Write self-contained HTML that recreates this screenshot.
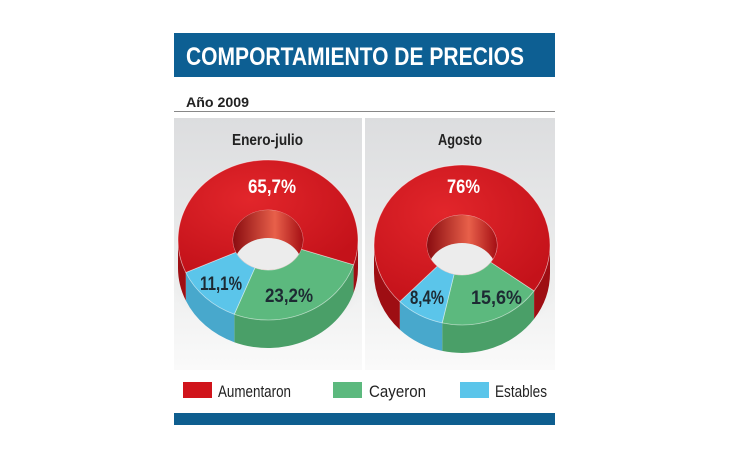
<!DOCTYPE html>
<html><head><meta charset="utf-8"><style>
html,body{margin:0;padding:0;background:#fff;width:730px;height:460px;overflow:hidden}
svg{display:block}
text{font-family:"Liberation Sans Narrow","Liberation Sans",sans-serif;font-weight:bold}
</style></head><body>
<svg id="s" width="730" height="460" viewBox="0 0 730 460" xmlns="http://www.w3.org/2000/svg">
<defs>
<linearGradient id="pg" x1="0" y1="0" x2="0" y2="1"><stop offset="0" stop-color="#dcdddf"/><stop offset="0.6" stop-color="#eceded"/><stop offset="1" stop-color="#fafafa"/></linearGradient>
<radialGradient id="rt" cx="0.4" cy="0.35" r="0.7"><stop offset="0" stop-color="#e2262b"/><stop offset="1" stop-color="#c4121a"/></radialGradient>
<linearGradient id="hw" x1="0" y1="0" x2="1" y2="0"><stop offset="0" stop-color="#8a0c10"/><stop offset="0.6" stop-color="#e8604a"/><stop offset="1" stop-color="#a50f14"/></linearGradient>
<radialGradient id="sh" cx="0.5" cy="0.5" r="0.5"><stop offset="0" stop-color="#9a9a9a" stop-opacity="0.5"/><stop offset="1" stop-color="#bbb" stop-opacity="0"/></radialGradient>
</defs>
<rect x="174" y="33" width="381" height="44" fill="#0d5f93"/>
<text x="186" y="65" font-size="25" fill="#fff" textLength="338" lengthAdjust="spacingAndGlyphs">COMPORTAMIENTO DE PRECIOS</text>
<text x="186" y="107" font-size="14" fill="#222" textLength="63" lengthAdjust="spacingAndGlyphs">Año 2009</text>
<rect x="174" y="111" width="381" height="1" fill="#888"/>
<rect x="174" y="118" width="188" height="252" fill="url(#pg)"/>
<rect x="365" y="118" width="190" height="252" fill="url(#pg)"/>
<text x="232" y="145" font-size="16" fill="#222" textLength="71" lengthAdjust="spacingAndGlyphs">Enero-julio</text>
<text x="438" y="145" font-size="16" fill="#222" textLength="44" lengthAdjust="spacingAndGlyphs">Agosto</text>
<g id="d1"></g><g id="d2"></g>
<rect x="183" y="382" width="29" height="16" fill="#d0141b"/>
<text x="218" y="397" font-size="17" style="font-weight:normal" fill="#222" textLength="73" lengthAdjust="spacingAndGlyphs">Aumentaron</text>
<rect x="333" y="382" width="29" height="16" fill="#5cb97e"/>
<text x="369" y="397" font-size="17" style="font-weight:normal" fill="#222" textLength="57" lengthAdjust="spacingAndGlyphs">Cayeron</text>
<rect x="460" y="382" width="29" height="16" fill="#5bc5ea"/>
<text x="495" y="397" font-size="17" style="font-weight:normal" fill="#222" textLength="52" lengthAdjust="spacingAndGlyphs">Estables</text>
<rect x="174" y="413" width="381" height="12" fill="#0e5e8f"/>
</svg>
<script>
function donut(gid,cx,cy,rx,ry,irx,iry,dep,sl,labels){
 var g=document.getElementById(gid),h='';
 var P=function(a,r1,r2,dy){a=a*Math.PI/180;return (cx+r1*Math.cos(a)).toFixed(1)+','+(cy+(dy||0)+r2*Math.sin(a)).toFixed(1);};
 h+='<ellipse cx="'+cx+'" cy="'+(cy+dep+18)+'" rx="'+(rx+6)+'" ry="'+(ry*0.6)+'" fill="url(#sh)"/>';
 sl.forEach(function(s){
  var segs=[];
  if(s[0]<180&&s[1]>0)segs.push([Math.max(s[0],0),Math.min(s[1],180)]);
  if(s[1]>360)segs.push([360,Math.min(s[1],540)]);
  segs.forEach(function(q){
   var d='M'+P(q[0],rx,ry)+' A'+rx+','+ry+' 0 0 1 '+P(q[1],rx,ry)+' L'+P(q[1],rx,ry,dep)+' A'+rx+','+ry+' 0 0 0 '+P(q[0],rx,ry,dep)+'Z';
   h+='<path d="'+d+'" fill="'+s[3]+'"/>';
  });
 });
 sl.forEach(function(s){
  var big=(s[1]-s[0])>180?1:0;
  var d='M'+P(s[0],rx,ry)+' A'+rx+','+ry+' 0 '+big+' 1 '+P(s[1],rx,ry)+' L'+P(s[1],irx,iry)+' A'+irx+','+iry+' 0 '+big+' 0 '+P(s[0],irx,iry)+'Z';
  h+='<path d="'+d+'" fill="'+s[2]+'" stroke="#fff" stroke-opacity="0.5" stroke-width="0.8"/>';
 });
 h+='<clipPath id="c'+gid+'"><ellipse cx="'+cx+'" cy="'+cy+'" rx="'+irx+'" ry="'+iry+'"/></clipPath>';
 h+='<ellipse cx="'+cx+'" cy="'+cy+'" rx="'+irx+'" ry="'+iry+'" fill="url(#hw)"/>';
 h+='<ellipse clip-path="url(#c'+gid+')" cx="'+cx+'" cy="'+(cy+dep)+'" rx="'+irx+'" ry="'+iry+'" fill="#ececec"/>';
 labels.forEach(function(l){h+='<text x="'+l[0]+'" y="'+l[1]+'" font-size="19" fill="'+l[3]+'" textLength="'+l[4]+'" lengthAdjust="spacingAndGlyphs">'+l[2]+'</text>';});
 g.innerHTML=h;
}
var R='#d0141b',RS='#9e0e13',G='#5cb97e',GS='#4a9f68',B='#5bc5ea',BS='#48a8cc';
donut('d1',268,240,90,80,35,30,28,[[18,112,G,GS],[112,156,B,BS],[156,378,'url(#rt)',RS]],
 [[248,193,'65,7%','#fff',48],[200,290,'11,1%','#1d2a33',42],[265,302,'23,2%','#1d2a33',48]]);
donut('d2',462,245,88,80,35,30,28,[[35,103,G,GS],[103,135,B,BS],[135,395,'url(#rt)',RS]],
 [[447,193,'76%','#fff',33],[410,304,'8,4%','#1d2a33',34],[471,304,'15,6%','#1d2a33',51]]);
</script>
</body></html>
